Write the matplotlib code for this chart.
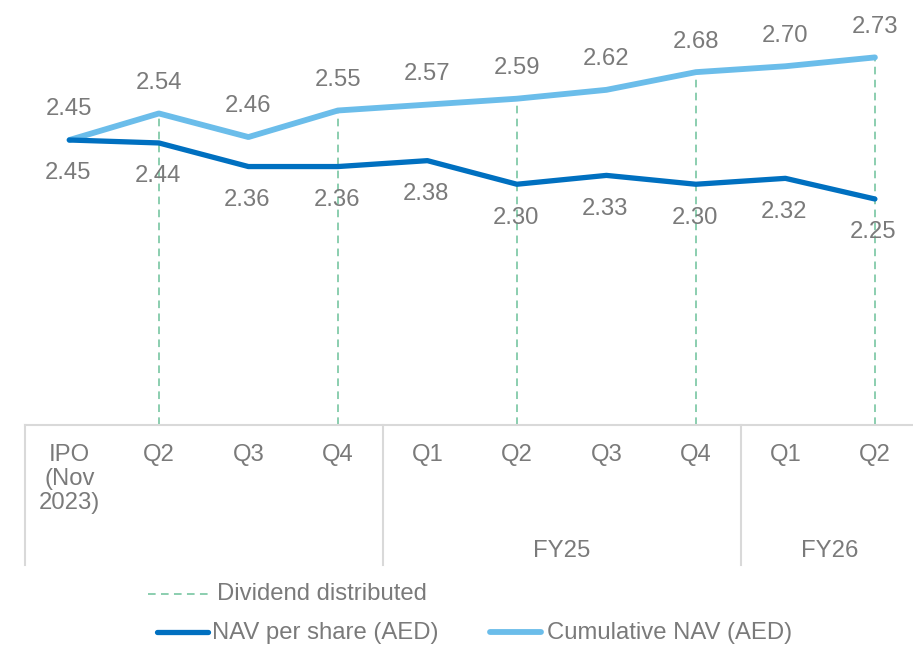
import matplotlib
matplotlib.use("Agg")
import matplotlib.pyplot as plt
from matplotlib.lines import Line2D

plt.rcParams['font.family'] = ['Liberation Sans', 'DejaVu Sans']

quarters = ["IPO\n(Nov\n2023)", "Q2", "Q3", "Q4", "Q1", "Q2", "Q3", "Q4", "Q1", "Q2"]
groups = [("", 0, 3), ("FY25", 4, 7), ("FY26", 8, 9)]
nav_per_share = [2.45, 2.44, 2.36, 2.36, 2.38, 2.30, 2.33, 2.30, 2.32, 2.25]
cumulative_nav = [2.45, 2.54, 2.46, 2.55, 2.57, 2.59, 2.62, 2.68, 2.70, 2.73]
dividend_idx = [1, 3, 5, 7, 9]

DARK = "#0070C0"
LIGHT = "#6BBDEA"
GREEN = "#6CC19A"
GREY_TXT = "#7A7A7A"
AXIS = "#D9D9D9"
FS = 17.2

W, H = 913, 645
STEP = 89.5
X0 = 69.4
LEFT = X0 - STEP / 2
fig = plt.figure(figsize=(W / 100, H / 100), dpi=100)
ax = fig.add_axes([LEFT / W, (H - 425) / H, (W - LEFT) / W, 425 / H])
x = list(range(len(quarters)))
ax.set_xlim(-0.5, -0.5 + (W - LEFT) / STEP)
ax.set_ylim(2.45 - 285 / 295, 2.45 + 140 / 295)
for s in ax.spines.values():
    s.set_visible(False)
ax.set_yticks([])
ax.set_xticks([])
ax.axhline(ax.get_ylim()[0], color=AXIS, lw=1.5, clip_on=False)

ymin = ax.get_ylim()[0]
for i in dividend_idx:
    ax.plot([i, i], [ymin, cumulative_nav[i]], color=GREEN, lw=1.1,
            dashes=(5, 3.5), zorder=1)

ax.plot(x, cumulative_nav, color=LIGHT, lw=4.2, solid_capstyle='round',
        solid_joinstyle='round', zorder=3)
ax.plot(x, nav_per_share, color=DARK, lw=3.8, solid_capstyle='round',
        solid_joinstyle='round', zorder=3)

for i in x:
    ax.annotate(f"{cumulative_nav[i]:.2f}", (i, cumulative_nav[i]),
                xytext=(0, 22), textcoords='offset points',
                ha='center', va='center', fontsize=FS, color=GREY_TXT)
    ax.annotate(f"{nav_per_share[i]:.2f}", (i, nav_per_share[i]),
                xytext=(-1, -24), textcoords='offset points',
                ha='center', va='center', fontsize=FS, color=GREY_TXT)

trans = ax.get_xaxis_transform()
for i, lab in enumerate(quarters):
    ax.text(i, -19 / 425, lab, transform=trans, ha='center', va='top',
            fontsize=FS, color=GREY_TXT, linespacing=1.12)

bottom = -140 / 425
for name, a, b in groups:
    left = a - 0.5
    ax.plot([left, left], [0, bottom], transform=trans, color=AXIS, lw=1.5,
            clip_on=False)
    if name:
        ax.text((a + b) / 2, -126 / 425, name, transform=trans, ha='center',
                va='center', fontsize=FS, color=GREY_TXT)
ax.plot([9.5, 9.5], [0, bottom], transform=trans, color=AXIS, lw=1.5,
        clip_on=False)

def fy(py):
    return (H - py) / H

fig.add_artist(Line2D([148 / W, 210 / W], [fy(594), fy(594)], color=GREEN,
                      lw=1.1, dashes=(5, 3.5)))
fig.text(217 / W, fy(594), "Dividend distributed", ha='left', va='center',
         fontsize=FS, color=GREY_TXT)
fig.add_artist(Line2D([157 / W, 208 / W], [fy(632), fy(632)], color=DARK,
                      lw=3.8, solid_capstyle='round'))
fig.text(212 / W, fy(633), "NAV per share (AED)", ha='left', va='center',
         fontsize=FS, color=GREY_TXT)
fig.add_artist(Line2D([490 / W, 541 / W], [fy(632), fy(632)], color=LIGHT,
                      lw=4.2, solid_capstyle='round'))
fig.text(547 / W, fy(633), "Cumulative NAV (AED)", ha='left', va='center',
         fontsize=FS, color=GREY_TXT)

fig.savefig("out.png", dpi=100)
